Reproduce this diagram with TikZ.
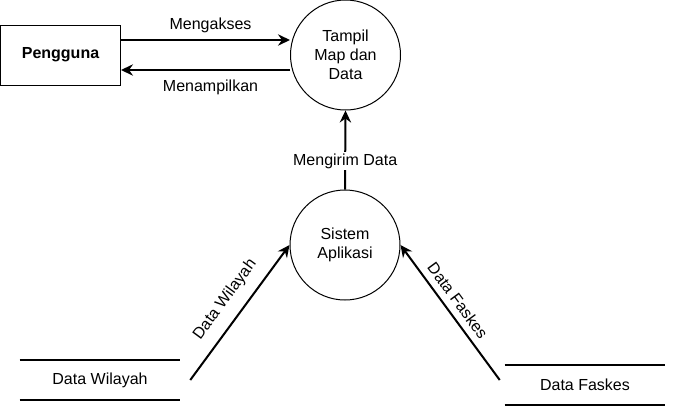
\documentclass[tikz,border=0pt]{standalone}
\usepackage{fontspec}
\setmainfont{Liberation Sans}
\usetikzlibrary{arrows.meta}

\tikzset{
  every node/.style={font=\fontsize{12}{14.25}\selectfont},
  proses/.style={draw,circle,line width=0.75pt,minimum size=82.5pt,inner sep=0pt,align=center},
  entitas/.style={draw,line width=0.75pt,minimum width=90pt,minimum height=45pt,font=\fontsize{12}{14.25}\selectfont\bfseries},
  simpan/.style={minimum width=120pt,minimum height=30pt},
  garis/.style={line width=1.5pt},
  alur/.style={-{Stealth[length=9pt,width=8.5pt,inset=3pt]},line width=1.5pt}
}

\begin{document}
\begin{tikzpicture}[x=0.75pt,y=-0.75pt]
\useasboundingbox (0,0) rectangle (675,408);
\node[entitas] (peng) at (60.5,55) {Pengguna};
\node[proses] (tam) at (345.5,55) {Tampil\\Map dan\\Data};
\node[proses] (sis) at (345,245) {Sistem\\Aplikasi};
\node[simpan] (dwil) at (100,380) {Data Wilayah};
\node[simpan] (dfas) at (585,385) {Data Faskes};
\draw[garis] (dwil.north west) -- (dwil.north east);
\draw[garis] (dwil.south west) -- (dwil.south east);
\draw[garis] (dfas.north west) -- (dfas.north east);
\draw[garis] (dfas.south west) -- (dfas.south east);
% pengguna <-> tampil
\draw[alur] ([yshift=11.25pt]peng.east) -- ([yshift=11.25pt]peng.east -| tam.west)
  node[midway,above=1pt,xshift=3.75pt] {Mengakses};
\draw[alur] ([yshift=-11.25pt]peng.east -| tam.west) -- ([yshift=-11.25pt]peng.east)
  node[midway,below=3pt,xshift=3.75pt] {Menampilkan};
\draw[alur] (sis.north) -- (tam.south)
  node[pos=0.36,fill=white,inner sep=1pt] {Mengirim Data};
% data store ke sistem
\draw[alur] ([xshift=7.5pt]dwil.east) -- (sis.west)
  node[pos=0.51,sloped,above=5pt] {Data Wilayah};
\draw[alur] ([xshift=-3.75pt,yshift=3.75pt]dfas.west) -- (sis.east)
  node[pos=0.53,sloped,above=1.5pt] {Data Faskes};
\end{tikzpicture}
\end{document}
